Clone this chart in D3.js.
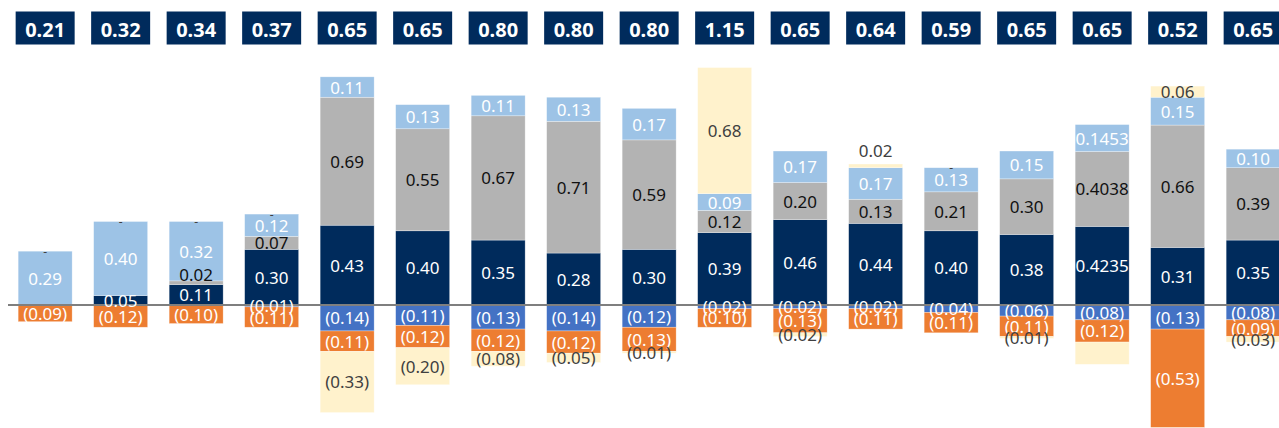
<!DOCTYPE html>
<meta charset="utf-8">
<script src="https://d3js.org/d3.v7.min.js"></script>
<style>
  body { margin: 0; background: #fff; }
  svg { display: block; }
  .seg-label { font-family: "Noto Sans", sans-serif; font-size: 17px; text-anchor: middle; dominant-baseline: central; }
  .total-label { font-family: "Noto Sans", sans-serif; font-size: 20px; font-weight: bold; fill: #fff; text-anchor: middle; dominant-baseline: central; }
</style>
<body>
<svg width="1279" height="428"></svg>
<script>
// one value per column, 17 columns
var columns = d3.range(17)
var totals = [0.21, 0.32, 0.34, 0.37, 0.65, 0.65, 0.80, 0.80, 0.80, 1.15, 0.65, 0.64, 0.59, 0.65, 0.65, 0.52, 0.65]

var navy      = [0, 0.05, 0.11, 0.30, 0.43, 0.40, 0.35, 0.28, 0.30, 0.39, 0.46, 0.44, 0.40, 0.38, 0.4235, 0.31, 0.35]
var blue      = [0, 0, 0, -0.01, -0.14, -0.11, -0.13, -0.14, -0.12, -0.02, -0.02, -0.02, -0.04, -0.06, -0.08, -0.13, -0.08]
var orange    = [-0.09, -0.12, -0.10, -0.11, -0.11, -0.12, -0.12, -0.12, -0.13, -0.10, -0.13, -0.11, -0.11, -0.11, -0.12, -0.53, -0.09]
var grey      = [0, 0, 0.02, 0.07, 0.69, 0.55, 0.67, 0.71, 0.59, 0.12, 0.20, 0.13, 0.21, 0.30, 0.4038, 0.66, 0.39]
var lightblue = [0.29, 0.40, 0.32, 0.12, 0.11, 0.13, 0.11, 0.13, 0.17, 0.09, 0.17, 0.17, 0.13, 0.15, 0.1453, 0.15, 0.10]
var cream     = [0, 0, 0, 0, -0.33, -0.20, -0.08, -0.05, -0.01, 0.68, -0.02, 0.02, 0, -0.01, -0.12, 0.06, -0.03]
var hiddenLabels = [{series: "cream", col: 14}]   // this one has no label in the original

var series = [
  {name: "navy", values: navy, fill: "#002b5c", text: "#ffffff"},
  {name: "blue", values: blue, fill: "#4472c4", text: "#ffffff"},
  {name: "orange", values: orange, fill: "#ed7d31", text: "#ffffff"},
  {name: "grey", values: grey, fill: "#b3b3b3", text: "#111111"},
  {name: "lightblue", values: lightblue, fill: "#9dc3e6", text: "#ffffff"},
  {name: "cream", values: cream, fill: "#fff2cc", text: "#404040"}
]

var svg = d3.select("svg")

var x = d3.scaleBand().domain(columns)
  .range([7.4, 7.4 + 17 * 75.5])
  .paddingInner(0.285).paddingOuter(0.1425)
var y = d3.scaleLinear().domain([-0.66, 1.4]).range([427.4, 45.3])

// stack positives up, negatives down (excel style)
var segs = []
columns.forEach(function(c) {
  var up = 0, down = 0
  series.forEach(function(s) {
    var v = s.values[c]
    var seg = {col: c, s: s, v: v}
    if (v >= 0) { seg.y0 = up; seg.y1 = up + v; up += v }
    else { seg.y0 = down; seg.y1 = down + v; down += v }
    seg.top = up
    segs.push(seg)
  })
})

function fmt(v) {
  var a = Math.abs(v)
  var dec = Math.max(2, (String(a).split(".")[1] || "").length)
  var t = a.toFixed(dec)
  return v < 0 ? "(" + t + ")" : t
}

svg.append("g").selectAll("rect")
  .data(segs.filter(function(d) { return d.v !== 0 }))
  .enter().append("rect")
  .attr("x", function(d) { return x(d.col) })
  .attr("width", x.bandwidth())
  .attr("y", function(d) { return y(Math.max(d.y0, d.y1)) })
  .attr("height", function(d) { return Math.abs(y(d.y0) - y(d.y1)) })
  .attr("fill", function(d) { return d.s.fill })
  .attr("stroke", "#ffffff").attr("stroke-opacity", 0.5).attr("stroke-width", 0.6)

// zero axis
svg.append("line")
  .attr("x1", 8).attr("x2", 1279)
  .attr("y1", y(0)).attr("y2", y(0))
  .attr("stroke", "#7f7f7f").attr("stroke-width", 2)

function isHidden(d) {
  return hiddenLabels.some(function(h) { return h.series == d.s.name && h.col == d.col })
}

svg.append("g").selectAll("text")
  .data(segs.filter(function(d) { return d.v !== 0 && !isHidden(d) }))
  .enter().append("text")
  .attr("class", "seg-label")
  .attr("x", function(d) { return x(d.col) + x.bandwidth() / 2 })
  .attr("y", function(d) {
    var mid = y((d.y0 + d.y1) / 2)
    var h = Math.abs(y(d.y0) - y(d.y1))
    // tiny positive cream sits above its bar
    if (d.s.name == "cream" && d.v > 0 && h < 8) return y(d.y1) - 14
    // tiny positive grey gets nudged up off the bar below
    if (d.v > 0 && h < 5) return mid - 8
    return mid
  })
  .attr("fill", function(d) { return d.s.text })
  .text(function(d) { return fmt(d.v) })

// zero cream values show as a dash on top
svg.append("g").selectAll("text")
  .data(segs.filter(function(d) { return d.s.name == "cream" && d.v === 0 }))
  .enter().append("text")
  .attr("class", "seg-label")
  .style("font-size", "12px")
  .attr("x", function(d) { return x(d.col) + x.bandwidth() / 2 })
  .attr("y", function(d) { return y(d.top) })
  .attr("fill", "#404040")
  .text("-")

// total boxes
var box = svg.append("g").selectAll("g")
  .data(columns)
  .enter().append("g")
  .attr("transform", function(c) { return "translate(" + (x(c) + x.bandwidth() / 2) + ",28)" })
box.append("rect")
  .attr("x", -29.5).attr("y", -16.5)
  .attr("width", 59).attr("height", 33)
  .attr("fill", "#002b5c")
box.append("text")
  .attr("class", "total-label")
  .attr("y", 1)
  .text(function(c) { return totals[c].toFixed(2) })
</script>
</body>
